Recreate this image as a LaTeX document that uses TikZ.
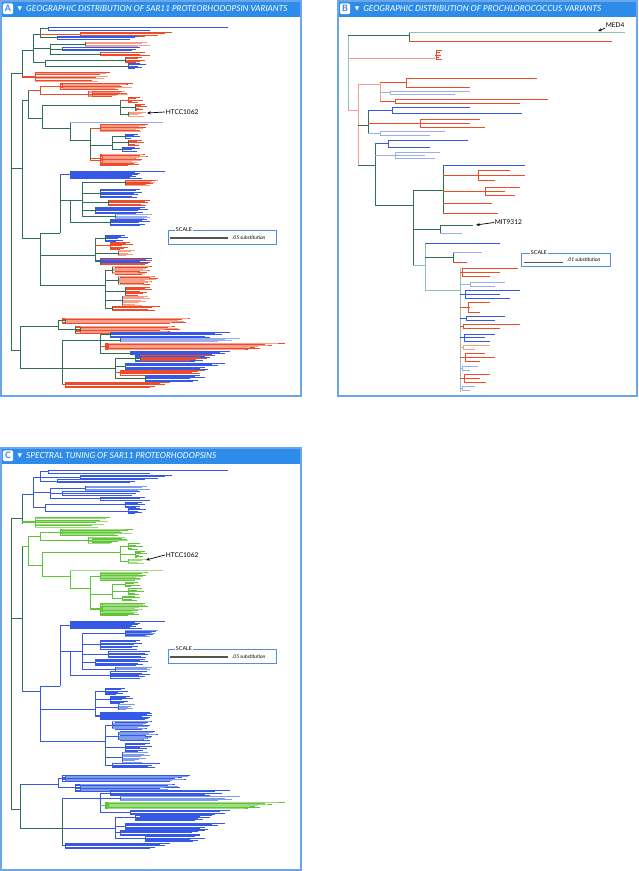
\documentclass[tikz,border=0pt]{standalone}
\usepackage{fontspec}
\setmainfont{Lato}
\newfontfamily\symfont{DejaVu Sans}
\usetikzlibrary{arrows.meta,positioning}

\definecolor{headc}{HTML}{2D8BEA}
\definecolor{framec}{HTML}{6AA6EC}
\definecolor{scalec}{HTML}{4F8FE2}
\definecolor{barc}{HTML}{555555}
% leaf and branch colours of panels A and B
\definecolor{lred}{HTML}{EE4B2B}
\definecolor{lsal}{HTML}{F6A08C}
\definecolor{lblu}{HTML}{3558E6}
\definecolor{lpal}{HTML}{9CAEF0}
\definecolor{innr}{HTML}{2F6F57}
\definecolor{rootc}{HTML}{2F6F57}
\definecolor{teal}{HTML}{93BFB0}
\colorlet{gred}{lred}
\colorlet{gsal}{lsal}
\colorlet{gblu}{lblu}
\colorlet{gpal}{lpal}
\colorlet{ginnr}{innr}

% comb of leaves: [stem colour]{parent x}{node x}{top y}{step}{leaf ends}{leaf colour}
\newcommand\clade[7][innr]{%
  \foreach \e [count=\i from 0] in {#6}{%
    \draw[#7] (#3,{#4+\i*#5}) -- (\e,{#4+\i*#5});
    \xdef\cladelast{\i}}%
  \draw[#1] (#3,#4) -- (#3,{#4+\cladelast*#5});
  \draw[#1] (#2,{#4+\cladelast*#5/2}) -- (#3,{#4+\cladelast*#5/2});
}

% SAR11 proteorhodopsin tree (drawn in panel A and again in panel C)
\newcommand\sartree{%
  % top group
  \draw[rootc] (11,73) -- (11,350);
  \draw[rootc] (11,73) -- (22,73) (22,50) -- (22,78);
  \draw[innr] (22,50) -- (33,50) (33,34) -- (33,62);
  \draw[innr] (33,34) -- (40,34) (40,28) -- (40,38);
  \clade{40}{48}{27}{3}{228,150}{lblu}
  \clade[lred]{40}{80}{32}{1.4}{172,165,158,145}{lred}
  \clade{40}{57}{36}{1.5}{138,135,130}{lblu}
  \draw[innr] (33,48) -- (50,48) (50,44) -- (50,54);
  \clade{50}{85}{42}{1.5}{147,142,150,138}{lsal}
  \clade{50}{62}{47.5}{1.6}{140,136,132}{lblu}
  \clade{50}{100}{52.5}{1.5}{145,140,150}{lred}
  \draw[innr] (33,62) -- (45,62) (45,59.9) -- (45,65.9);
  \clade{45}{125}{57.5}{1.2}{142,138,145,140,136}{lred}
  \clade{45}{128}{63.5}{1.2}{140,146,138,142,135}{lblu}
  % red clade
  \clade[gred]{22}{35}{72}{2.6}{110,100,96,92}{gred}
  \clade[gred]{22}{35}{73.3}{2.6}{106,108,104,98}{gsal}
  % middle group
  \draw[rootc] (11,168) -- (22,168) (22,100) -- (22,238);
  \draw[ginnr] (22,100) -- (28,100) (28,90) -- (28,118);
  \draw[gred] (28,90) -- (40,90) (40,86) -- (40,94);
  \clade[gred]{40}{60}{83}{1.5}{133,128,122,130,118}{gred}
  \clade[gred]{40}{62}{83.75}{1.5}{126,120,132,115}{gsal}
  \clade[gred]{40}{88}{91}{1.4}{125,120,128,116,110}{gsal}
  \clade[gred]{40}{92}{91.7}{1.4}{122,127,118,112}{gred}
  \draw[ginnr] (28,118) -- (42,118) (42,105) -- (42,128);
  \draw[ginnr] (42,105) -- (120,105) (120,99.8) -- (120,114);
  \clade[gred]{120}{128}{97}{1.4}{140,136,143,132,138}{gred}
  \clade[ginnr]{120}{135}{104}{1.3}{145,141,147,139,143,137}{gred}
  \clade[ginnr]{120}{128}{112}{1.3}{146,142,138,144}{gsal}
  \draw[ginnr] (42,128) -- (70,128) (70,122) -- (70,140);
  \draw[gpal] (70,122) -- (163,122);
  \draw[ginnr] (70,140) -- (90,140) (90,127.5) -- (90,160);
  \clade[gred]{90}{100}{124}{1.5}{148,142,146,138,140,135}{gred}
  \clade[gred]{90}{100}{124.75}{1.5}{145,139,143,136,141}{gsal}
  \draw[ginnr] (90,145) -- (112,145) (112,136) -- (112,149);
  \clade[ginnr]{112}{125}{134}{1.3}{138,134,140,131}{gblu}
  \clade[ginnr]{112}{128}{140}{1.3}{142,137,144,135,139}{gred}
  \clade[ginnr]{112}{122}{147}{1.3}{135,140,132,137}{gblu}
  \clade[gred]{90}{100}{154}{1.3}{145,140,148,136,142,138,130,134,139,128}{gred}
  \clade[gred]{90}{102}{154.65}{1.3}{143,146,139,135,141,132,137}{gsal}
  % blue group
  \draw[innr] (22,238) -- (40,238) (40,233) -- (40,285);
  \draw[innr] (40,233) -- (60,233) (60,174.5) -- (60,233);
  \clade[lblu]{60}{70}{171}{1}{165,135,140,138,132,136,130,142}{lblu}
  \draw[innr] (60,200) -- (70,200) (70,200) -- (70,222);
  \draw[innr] (70,200) -- (82,200) (82,182.6) -- (82,216.5);
  \clade{82}{125}{180}{1.3}{158,152,155,147,150}{lsal}
  \clade{82}{125}{180.65}{1.3}{156,150,153,145}{lred}
  \clade{82}{100}{189}{1.4}{140,136,142,134,138,132,137}{lblu}
  \clade{82}{108}{200}{1.3}{150,145,148,141,146}{lred}
  \clade{82}{95}{207}{1.2}{145,140,148,138,143,136}{lblu}
  \clade{82}{115}{214.5}{1.3}{152,147,150,144}{lpal}
  \clade{70}{110}{219}{1.2}{147,142,150,139,145,140}{lblu}
  % lower red group
  \draw[innr] (40,255) -- (95,255) (95,238) -- (95,261.3);
  \clade{95}{105}{235}{1.2}{125,121,128,118,123,116}{lblu}
  \clade[lred]{95}{110}{242}{1.2}{130,126,133,122,128,124,120}{lred}
  \clade{95}{118}{250.5}{1.2}{135,131,128,133,126}{lsal}
  \clade{95}{100}{258}{1.3}{150,146,152,142,148,145}{lred}
  \clade{95}{100}{258.65}{1.3}{152,147,140,150}{lblu}
  \draw[innr] (40,285) -- (105,285) (105,269.9) -- (105,308.3);
  \clade{105}{115}{266}{1.3}{152,148,145,150,140,147,142}{lred}
  \clade{105}{112}{266.65}{1.3}{150,146,143,148,138,145}{lsal}
  \clade{105}{120}{276}{1.2}{155,150,158,146,152,148,144,150}{lred}
  \clade{105}{118}{276.6}{1.2}{153,149,156,145,151,147,143}{lsal}
  \clade{105}{125}{287}{1.3}{150,145,152,140,147,143,138}{lred}
  \clade{105}{122}{296}{1.3}{148,144,150,141,146,139,135,142}{lsal}
  \clade{105}{112}{306.5}{1.2}{160,152,148,155}{lred}
  % bottom group
  \draw[rootc] (11,350) -- (20,350) (20,326) -- (20,368);
  \draw[innr] (20,326) -- (58,326) (58,320.6) -- (58,329.5);
  \clade[lred]{58}{62}{318}{1.3}{190,182,175,186,170}{lred}
  \clade{58}{65}{318.65}{1.3}{188,178,184,172}{lsal}
  \clade{58}{75}{326}{1.4}{175,168,180,160,170,165}{lred}
  \clade{58}{80}{326.7}{1.4}{172,178,165,168,160}{lsal}
  \draw[rootc] (20,368) -- (62,368) (62,340) -- (62,384.6);
  \draw[innr] (62,340) -- (100,340) (100,334.6) -- (100,352.8);
  \clade{100}{110}{332}{1.3}{230,215,222,205,210}{lblu}
  \clade{100}{120}{338}{1.2}{240,225,232,218}{lpal}
  \clade[gred]{100}{105}{343}{1.3}{285,265,272,255,260,248}{gred}
  \clade[gred]{100}{108}{343.65}{1.3}{278,268,258,250,245}{gsal}
  \clade{100}{130}{351}{1.2}{230,220,225,212}{lblu}
  \draw[innr] (62,368) -- (115,368) (115,358) -- (115,378);
  \clade{115}{135}{355}{1.2}{215,205,210,198,203,195}{lblu}
  \clade{115}{140}{355.6}{1.2}{212,200,207,196,190}{lred}
  \clade{115}{125}{363}{1.3}{225,212,218,205,200,208}{lblu}
  \clade[lred]{115}{120}{370}{1.2}{205,198,192,200,188}{lred}
  \clade{115}{145}{375}{1.2}{200,195,205,190,198,193}{lblu}
  \clade[lred]{62}{65}{382}{1.3}{170,160,165,155,150}{lred}
}

\begin{document}
\begin{tikzpicture}[
    x=0.03cm, y=-0.03cm,
    line width=0.42pt,
    panelframe/.style={draw=framec, line width=1.7pt},
    headtext/.style={anchor=west, inner sep=0pt, text=white, font=\fontsize{7.1}{8}\selectfont\itshape},
    tagbox/.style={fill=white, rounded corners=1pt, inner sep=0pt, minimum width=0.3cm, minimum height=0.32cm, text=headc, font=\fontsize{7.5}{8}\selectfont\bfseries},
    tri/.style={inner sep=0pt, text=white, font=\symfont\fontsize{5}{5}\selectfont},
    scalebox/.style={draw=scalec, line width=0.7pt},
    scalelbl/.style={fill=white, inner sep=1pt, font=\fontsize{4.6}{5}\selectfont},
    subst/.style={anchor=west, inner sep=0pt, font=\fontsize{4.3}{5}\selectfont\itshape},
    scalebar/.style={draw=barc, line width=0.9pt},
    strain/.style={anchor=west, inner sep=0.5pt, font=\fontsize{5.6}{6}\selectfont},
    callout/.style={-{Stealth[length=3.2pt, width=2.6pt]}, line width=0.6pt},
]
\useasboundingbox (0,0) rectangle (638,871);

% panel A
\sartree
\fill[headc] (0,0) rectangle (302,17);
\draw[panelframe] (0.9,0.9) rectangle (301.1,396.1);
\node[tagbox] (tagA) at (8,8.7) {A};
\node[tri] (triA) at (20,9) {▼};
\node[headtext] (headA) at (26,9) {GEOGRAPHIC DISTRIBUTION OF SAR11 PROTEORHODOPSIN VARIANTS};
\node[strain] (htccA) at (165,112) {HTCC1062};
\coordinate (htccAtip) at (147,113);
\draw[callout] (htccA.west) -- (htccAtip);
\draw[scalebox] (168,230) rectangle (276,244);
\node[scalelbl] (scaleA) at (184,230) {SCALE};
\draw[scalebar] (170,238) -- (228,238);
\node[subst] (substA) at (232,237.5) {.05 substitution};

% panel B
\draw[teal] (348,35) -- (348,110);
\draw[innr] (348,35) -- (409,35) (409,32) -- (409,41);
\draw[teal] (409,32) -- (625,32);
\draw[lred] (409,41) -- (612,41);
\draw[lsal] (348,58) -- (435,58);
\clade[lred]{435}{436}{50}{2.4}{442,440,441,439,442}{lred}
\draw[lsal] (348,110) -- (358,110) (358,84) -- (358,165);
\draw[lsal] (358,84) -- (380,84) (380,82.5) -- (380,101);
\clade[lred]{380}{406}{78}{9}{537,470}{lred}
\clade[lpal]{380}{390}{91}{3}{470,455}{lpal}
\clade[lred]{380}{395}{99}{4}{548,520}{lred}
\draw[innr] (358,125) -- (368,125) (368,110) -- (368,133);
\clade[lblu]{368}{392}{107}{6}{470,522}{lblu}
\clade[lred]{368}{420}{119}{4}{480,470,485}{lred}
\clade[lpal]{368}{380}{131}{4}{445,430}{lpal}
\draw[innr] (358,165) -- (375,165) (375,143.5) -- (375,205);
\clade[lblu]{375}{388}{140}{7}{468,430}{lblu}
\clade[lpal]{375}{395}{152}{3}{440,425,435}{lpal}
\draw[innr] (375,205) -- (413,205) (413,190) -- (413,265);
\draw[innr] (413,190) -- (443,190) (443,165) -- (443,213);
\clade[lblu]{443}{476}{165}{1}{525}{lblu}
\clade[lred]{443}{478}{170}{5}{510,525,495}{lred}
\clade[lred]{443}{485}{187}{4}{520,505,515}{lred}
\clade[lred]{443}{468}{203}{1}{492}{lred}
\clade[lred]{443}{446}{213}{1}{498}{lred}
\draw[innr] (413,229) -- (440,229) (440,225) -- (440,233);
\draw[innr] (440,225) -- (473,225);
\draw[lpal] (440,233) -- (462,233);
\draw[teal] (413,265) -- (425,265) (425,243) -- (425,290);
\draw[lblu] (425,243) -- (500,243);
\draw[innr] (425,257) -- (453,257) (453,252) -- (453,262);
\draw[lpal] (453,252) -- (482,252);
\draw[lred] (453,262) -- (467,262);
\draw[teal] (425,290) -- (460,290) (460,268) -- (460,392);
\clade[lred]{460}{462}{268}{4}{518,500,490}{lred}
\clade[lpal]{460}{470}{282}{4}{505,495}{lpal}
\clade[lblu]{460}{465}{290}{4}{520,500,510}{lblu}
\clade[lred]{460}{468}{302}{5}{490,470,480}{lred}
\clade[lblu]{460}{466}{316}{4}{505,495}{lblu}
\clade[lred]{460}{463}{324}{4}{520,500}{lred}
\clade[lblu]{460}{464}{334}{3.5}{495,485,490}{lblu}
\clade[lsal]{460}{463}{345}{4}{490,475}{lsal}
\clade[lred]{460}{465}{353}{4}{485,495,480}{lred}
\clade[lpal]{460}{462}{366}{4}{478,470}{lpal}
\clade[lred]{460}{464}{374}{4}{490,480,486}{lred}
\clade[lpal]{460}{462}{386}{4}{475,470}{lpal}
\fill[headc] (337,0) rectangle (638,17);
\draw[panelframe] (337.9,0.9) rectangle (637.1,396.1);
\node[tagbox] (tagB) at (345,8.7) {B};
\node[tri] (triB) at (357,9) {▼};
\node[headtext] (headB) at (363,9) {GEOGRAPHIC DISTRIBUTION OF PROCHLOROCOCCUS VARIANTS};
\node[strain] (med) at (605,25) {MED4};
\coordinate (medtip) at (598,31);
\draw[callout] (med.south west) -- (medtip);
\node[strain] (mit) at (494,222.5) {MIT9312};
\coordinate (mittip) at (476,225);
\draw[callout] (mit.west) -- (mittip);
\draw[scalebox] (521,253) rectangle (610,266);
\node[scalelbl] (scaleB) at (539,253) {SCALE};
\draw[scalebar, line width=0.7pt] (524,262) -- (563,262);
\node[subst] (substB) at (567,260) {.01 substitution};

% panel C
\begin{scope}[yshift=-13.2495cm, yscale=1.05]
  \colorlet{lred}{lblu}
  \definecolor{lsal}{HTML}{7F9BEC}
  \definecolor{lpal}{HTML}{7F9BEC}
  \colorlet{innr}{lblu}
  \definecolor{gred}{HTML}{5FC43A}
  \definecolor{gsal}{HTML}{9FDC80}
  \colorlet{gblu}{gred}
  \colorlet{gpal}{gsal}
  \colorlet{ginnr}{gred}
  \sartree
\end{scope}
\fill[headc] (0,447) rectangle (302,464);
\draw[panelframe] (0.9,447.9) rectangle (301.1,870.1);
\node[tagbox] (tagC) at (8,455.7) {C};
\node[tri] (triC) at (20,456) {▼};
\node[headtext] (headC) at (26,456) {SPECTRAL TUNING OF SAR11 PROTEORHODOPSINS};
\node[strain] (htccC) at (165,555) {HTCC1062};
\coordinate (htccCtip) at (146,560);
\draw[callout] (htccC.west) -- (htccCtip);
\draw[scalebox] (168,649) rectangle (276,663);
\node[scalelbl] (scaleC) at (184,649) {SCALE};
\draw[scalebar] (170,657) -- (228,657);
\node[subst] (substC) at (232,656.5) {.05 substitution};
\end{tikzpicture}
\end{document}
